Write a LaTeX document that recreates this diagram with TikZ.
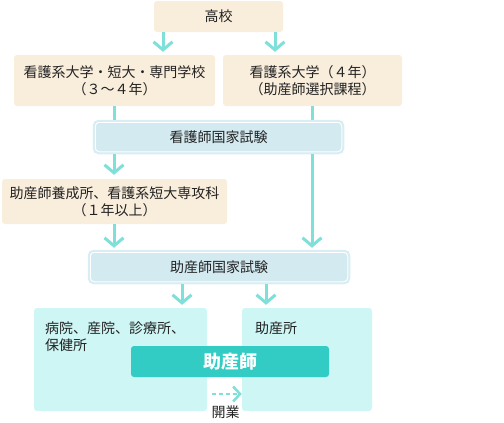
\documentclass[tikz,border=0pt]{standalone}
\usepackage{fontspec}
\setmainfont{Noto Sans CJK JP}
\usetikzlibrary{arrows.meta}
\definecolor{beige}{HTML}{F9EDDC}
\definecolor{bluef}{HTML}{D3EAF1}
\definecolor{blueo}{HTML}{D8EEF4}
\definecolor{arrc}{HTML}{7FDFD9}
\definecolor{cyanl}{HTML}{CDF6F4}
\definecolor{barc}{HTML}{33CCC5}
\definecolor{txt}{HTML}{222222}
\begin{document}
\begin{tikzpicture}[x=1pt,y=-1pt,
  every node/.style={inner sep=0pt, text=txt, font=\fontsize{14}{17}\selectfont},
  beigebox/.style={fill=beige, rounded corners=3pt, align=center},
  exambox/.style={fill=bluef, draw=blueo, line width=1.5pt, rounded corners=5pt, align=center},
  placebox/.style={fill=cyanl, rounded corners=3pt},
  barbox/.style={fill=barc, rounded corners=3pt, text=white, font=\fontsize{18}{20}\selectfont\bfseries},
  arr/.style={draw=arrc, line width=3pt, -{Straight Barb[length=8pt,width=19pt]}},
  plain/.style={draw=arrc, line width=3pt},
  dasharr/.style={draw=arrc, line width=2.5pt, dash pattern=on 4pt off 3pt, -{Straight Barb[length=7pt,width=15pt]}},
  innerline/.style={draw=white, line width=1pt, rounded corners=4pt}
]
\useasboundingbox (0,0) rectangle (504,423);

% nodes
\node[beigebox, minimum width=129pt, minimum height=31pt] (koko) at (218.5,16.5) {高校};
\node[beigebox, minimum width=201pt, minimum height=51pt] (left) at (114.5,80.5) {看護系大学・短大・専門学校\\（３～４年）};
\node[beigebox, minimum width=179pt, minimum height=51pt] (right) at (312.5,80.5) {看護系大学（４年）\\（助産師選択課程）};

\coordinate (xa) at (163,0);
\coordinate (xb) at (275,0);
\coordinate (xl) at (114,0);
\coordinate (xr) at (312,0);
\coordinate (xc) at (182,0);
\coordinate (xd) at (266,0);

% right vertical line behind exam box
\draw[plain] (right.south -| xr) -- (312,137);

\node[exambox, minimum width=250pt, minimum height=33pt] (kango) at (218.5,137) {看護師国家試験};
\draw[innerline] ([shift={(2.5,2.5)}]kango.north west) rectangle ([shift={(-2.5,-2.5)}]kango.south east);

\node[beigebox, minimum width=225pt, minimum height=45pt] (yosei) at (114.5,201.5) {助産師養成所、看護系短大専攻科\\（１年以上）};

\node[exambox, minimum width=261pt, minimum height=33pt] (josan) at (219,267) {助産師国家試験};
\draw[innerline] ([shift={(2.5,2.5)}]josan.north west) rectangle ([shift={(-2.5,-2.5)}]josan.south east);

\node[placebox, minimum width=173pt, minimum height=103pt] (hosp) at (120.5,359.5) {};
\node[placebox, minimum width=130pt, minimum height=103pt] (jsho) at (307,359.5) {};
\node[anchor=west, align=left, font=\fontsize{14}{16.5}\selectfont] (hosptext) at (45,336.5) {病院、産院、診療所、\\保健所};
\node[anchor=west] (jshotext) at (255,328) {助産所};
\node[barbox, minimum width=198pt, minimum height=31pt] (bar) at (230,361.5) {助産師};

\node (kaigyo) at (225.5,412) {開業};

% connectors
\draw[arr, shorten >=3pt] (koko.south -| xa) -- (left.north -| xa);
\draw[arr, shorten >=3pt] (koko.south -| xb) -- (right.north -| xb);
\draw[plain] (left.south -| xl) -- (kango.north -| xl);
\draw[arr, shorten >=4pt] (kango.south -| xl) -- (yosei.north -| xl);
\draw[arr, shorten >=2pt] (kango.south -| xr) -- (josan.north -| xr);
\draw[arr, shorten >=2pt] (yosei.south -| xl) -- (josan.north -| xl);
\draw[arr, shorten >=3pt] (josan.south -| xc) -- (hosp.north -| xc);
\draw[arr, shorten >=3pt] (josan.south -| xd) -- (jsho.north -| xd);
\coordinate (yd) at (0,394);
\draw[dasharr, shorten <=5pt] (hosp.east |- yd) -- (jsho.west |- yd);
\end{tikzpicture}
\end{document}
